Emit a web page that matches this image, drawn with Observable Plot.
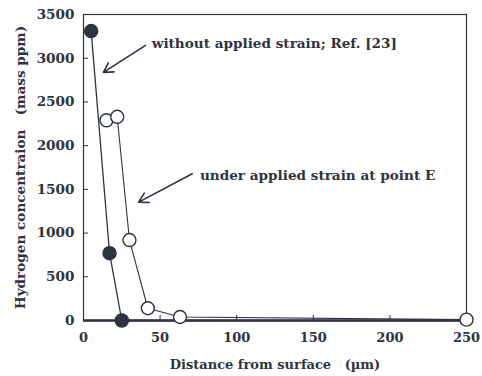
<!DOCTYPE html>
<html><head><meta charset="utf-8">
<script src="https://cdn.jsdelivr.net/npm/d3@7"></script>
<script src="https://cdn.jsdelivr.net/npm/@observablehq/plot@0.6"></script>
<style>body{margin:0;background:#fff}</style>
</head><body><div id="chart"></div>
<script>
const withoutX = [5, 17, 25, 250];
const withoutY = [3310, 770, 0, 0];
const withoutMarked = [true, true, true, false];
const underX = [15, 22, 30, 42, 63, 250];
const underY = [2290, 2330, 920, 140, 40, 10];
const xTicks = [0, 50, 100, 150, 200, 250];
const yTicks = [0, 500, 1000, 1500, 2000, 2500, 3000, 3500];
const notes = ["without applied strain; Ref. [23]", "under applied strain at point E"];
const noteX = [44.5, 76];
const noteY = [3165, 1660];
const arrowX1 = [40.5, 71];
const arrowY1 = [3146, 1678];
const arrowX2 = [13, 36];
const arrowY2 = [2838, 1354];

const ink = "#2e3340";
const font = "'DejaVu Serif', 'Liberation Serif', serif";
const without = withoutX.map((x, i) => ({x, y: withoutY[i], m: withoutMarked[i]}));
const under = underX.map((x, i) => ({x, y: underY[i]}));
const ann = notes.map((t, i) => ({t, x: noteX[i], y: noteY[i]}));
const arr = arrowX1.map((x1, i) => ({x1, y1: arrowY1[i], x2: arrowX2[i], y2: arrowY2[i]}));

const chart = Plot.plot({
  width: 482, height: 376,
  marginLeft: 83, marginRight: 16, marginTop: 14, marginBottom: 56,
  style: {fontFamily: font, fontWeight: "bold", fontSize: "13px", color: ink, background: "#fff"},
  x: {domain: [0, 250]},
  y: {domain: [0, 3500]},
  marks: [
    Plot.frame({stroke: ink, strokeWidth: 1.2}),
    Plot.axisY({ticks: yTicks, tickSize: 0, tickPadding: 9, tickFormat: d => String(d), fontSize: 13, label: "Hydrogen concentraion   (mass ppm)", labelAnchor: "center", labelArrow: "none", labelOffset: 68, fontSize: 13.6}),
    Plot.axisY({ticks: yTicks, tickSize: -5, text: null, label: null, stroke: ink}),
    Plot.axisX({ticks: xTicks, tickSize: 0, tickPadding: 12, fontSize: 13, label: "Distance from surface   (µm)", labelAnchor: "center", labelArrow: "none", labelOffset: 48}),
    Plot.axisX({ticks: xTicks, tickSize: -5, text: null, label: null, stroke: ink}),
    Plot.line(without, {x: "x", y: "y", stroke: ink, strokeWidth: 1.3}),
    Plot.ruleY([0], {stroke: ink, strokeWidth: 2.5}),
    Plot.line(under, {x: "x", y: "y", stroke: ink, strokeWidth: 1.1}),
    Plot.dot(without.filter(d => d.m), {x: "x", y: "y", r: 6.5, fill: ink, stroke: ink}),
    Plot.dot(under, {x: "x", y: "y", r: 6.5, fill: "#fff", stroke: ink, strokeWidth: 1.4}),
    Plot.arrow(arr, {x1: "x1", y1: "y1", x2: "x2", y2: "y2", stroke: ink, strokeWidth: 1.6, headLength: 10}),
    Plot.text(ann, {x: "x", y: "y", text: "t", textAnchor: "start", fontSize: 13.6, fill: ink})
  ]
});
document.getElementById("chart").appendChild(chart);
</script></body></html>
